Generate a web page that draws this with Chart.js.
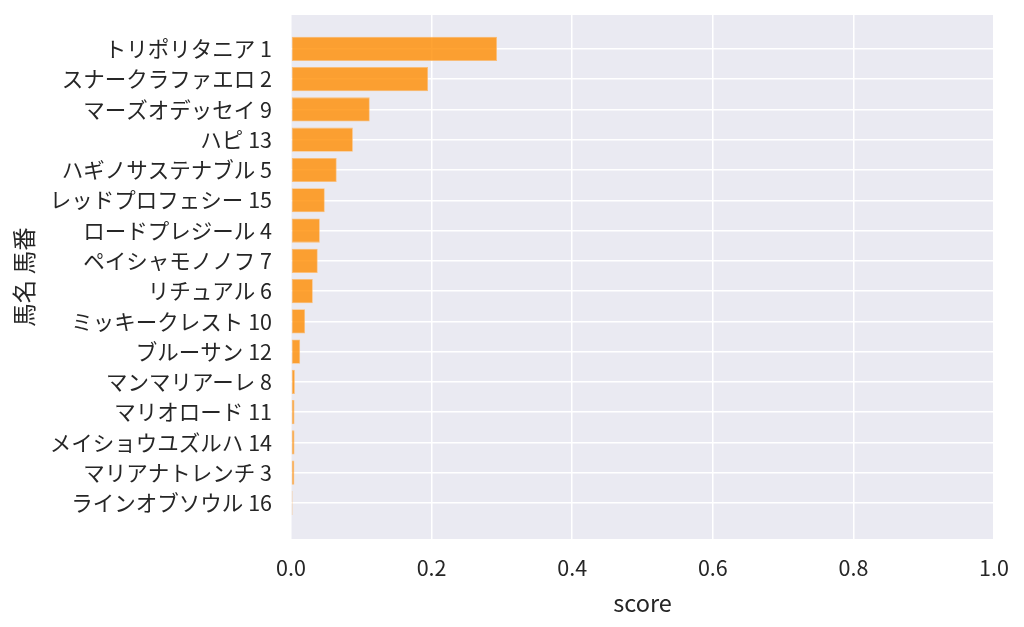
<!DOCTYPE html>
<html lang="ja">
<head>
  <meta charset="UTF-8">
  <title>score</title>
  <script src="https://cdn.jsdelivr.net/npm/chart.js@4.4.1/dist/chart.umd.min.js"></script>
  <style>
    html, body {
      margin: 0;
      padding: 0;
      background: #ffffff;
    }
    .wrap {
      width: 1024px;
      height: 627px;
    }
  </style>
</head>
<body>
  <div class="wrap">
    <canvas id="scoreChart" width="1024" height="627"></canvas>
  </div>
  <script>
    // 馬名 / 馬番 / score (上から順)
    const horseNames = [
      'トリポリタニア', 'スナークラファエロ', 'マーズオデッセイ', 'ハピ',
      'ハギノサステナブル', 'レッドプロフェシー', 'ロードプレジール', 'ペイシャモノノフ',
      'リチュアル', 'ミッキークレスト', 'ブルーサン', 'マンマリアーレ',
      'マリオロード', 'メイショウユズルハ', 'マリアナトレンチ', 'ラインオブソウル'
    ];
    const horseNumbers = [1, 2, 9, 13, 5, 15, 4, 7, 6, 10, 12, 8, 11, 14, 3, 16];
    const scores = [
      0.293, 0.195, 0.112, 0.088, 0.065, 0.048, 0.041, 0.038,
      0.031, 0.020, 0.013, 0.0055, 0.005, 0.005, 0.0048, 0.0022
    ];
    const xTicks = [0, 0.2, 0.4, 0.6, 0.8, 1.0];

    const FONT = "'Noto Sans CJK JP', 'Noto Sans', sans-serif";
    const TEXT = '#262626';

    const plotBackground = {
      id: 'plotBackground',
      beforeDraw(chart) {
        const { ctx, chartArea } = chart;
        ctx.save();
        ctx.fillStyle = '#eaeaf2';
        ctx.fillRect(chartArea.left, chartArea.top,
          chartArea.right - chartArea.left, chartArea.bottom - chartArea.top);
        ctx.restore();
      }
    };

    const ctx = document.getElementById('scoreChart').getContext('2d');
    new Chart(ctx, {
      type: 'bar',
      data: {
        datasets: [{
          label: 'score',
          data: scores.map((s, i) => ({ x: s, y: i })),
          backgroundColor: 'rgba(255, 140, 0, 0.8)',
          borderColor: 'rgba(252, 190, 120, 1)',
          borderWidth: 0.8,
          borderSkipped: false,
          categoryPercentage: 0.8,
          barPercentage: 1.0
        }]
      },
      options: {
        indexAxis: 'y',
        responsive: false,
        animation: false,
        devicePixelRatio: 1,
        layout: { padding: { left: 0, top: 15, right: 30, bottom: 0 } },
        plugins: {
          legend: { display: false },
          tooltip: { enabled: false }
        },
        scales: {
          x: {
            type: 'linear',
            min: 0,
            max: 1,
            afterBuildTicks: (scale) => {
              scale.ticks = xTicks.map(v => ({ value: v }));
            },
            afterFit: (scale) => {
              scale.height = 88;
              scale.paddingLeft = 0;
              scale.paddingRight = 0;
            },
            grid: { color: '#ffffff', lineWidth: 1.5, drawTicks: false },
            border: { display: false },
            ticks: {
              padding: 16,
              color: TEXT,
              font: { family: FONT, size: 21.5 },
              callback: (v) => v.toFixed(1)
            },
            title: {
              display: true,
              text: 'score',
              color: TEXT,
              font: { family: FONT, size: 23.5 },
              padding: { top: 4, bottom: 10 }
            }
          },
          y: {
            type: 'linear',
            reverse: true,
            offset: false,
            min: -1.12,
            max: 16.19,
            afterBuildTicks: (scale) => {
              scale.ticks = horseNames.map((_, i) => ({ value: i }));
            },
            afterFit: (scale) => {
              scale.width = 291;
              scale.paddingTop = 0;
              scale.paddingBottom = 0;
            },
            grid: { color: '#ffffff', lineWidth: 1.5, drawTicks: false, offset: false },
            border: { display: false },
            ticks: {
              padding: 19,
              color: TEXT,
              font: { family: FONT, size: 21.5 },
              callback: (v) => horseNames[v] + ' ' + horseNumbers[v]
            },
            title: {
              display: true,
              text: '馬名 馬番',
              color: TEXT,
              font: { family: FONT, size: 23.5 },
              padding: { top: 10, bottom: 4 }
            }
          }
        }
      },
      plugins: [plotBackground]
    });
  </script>
</body>
</html>
